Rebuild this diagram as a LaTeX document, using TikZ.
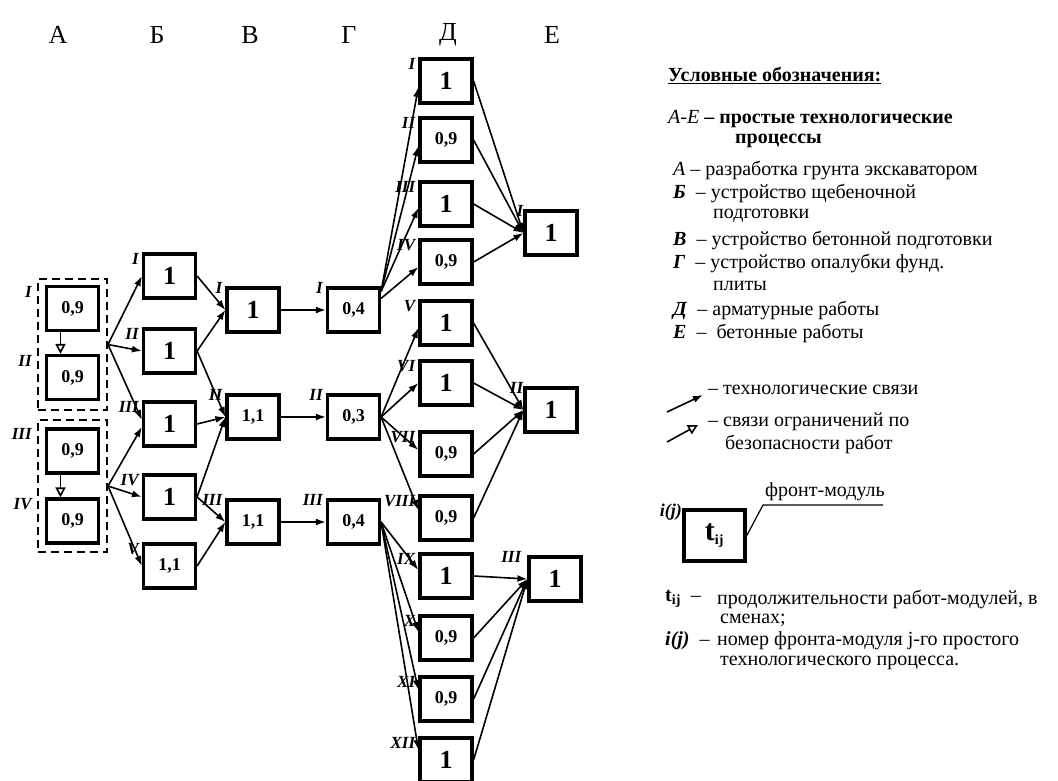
\documentclass[tikz,border=0pt]{standalone}
\usepackage{fontspec}
\setmainfont{Liberation Serif}
\usetikzlibrary{arrows.meta,positioning}
\newcommand{\fsz}[1]{\fontsize{#1}{#1}\selectfont}

\begin{document}
\begin{tikzpicture}[
    x=1pt, y=-1pt,
    mod/.style={draw, rectangle, line width=3.2pt, minimum width=52pt, minimum height=44pt, inner sep=0pt, font=\fsz{18}\bfseries},
    big/.style={font=\fsz{26}\bfseries},
    num/.style={font=\fsz{17}\bfseries\itshape, anchor=east, xshift=-3pt, yshift=-7pt, inner sep=0pt},
    grp/.style={draw, dash pattern=on 8pt off 5pt, line width=2pt, minimum width=69pt, inner sep=0pt},
    tech/.style={draw, -{Latex[length=10pt,width=7pt]}, line width=1.6pt},
    safe/.style={draw, -{Triangle[open,length=10pt,width=10pt]}, line width=1.6pt},
    head/.style={font=\fsz{26}},
    leg/.style={anchor=west, font=\fsz{20}, inner sep=0pt}
]
\useasboundingbox (0,0) rectangle (1058,780);

% column heads
\node[head] (hA) at (58,35) {А};
\node[head] (hB) at (157,35) {Б};
\node[head] (hV) at (250,35) {В};
\node[head] (hG) at (349,35) {Г};
\node[head] (hD) at (448,35) {Д};
\node[head] (hE) at (552,35) {Е};

% A
\node[grp, minimum height=131pt] (grp1) at (72.5,344.5) {};
\node[grp, minimum height=132pt] (grp2) at (72.5,486) {};
\node[mod, label={[num, xshift=-10pt]north west:I}] (a1) at (72.5,308.5) {0,9};
\node[mod, label={[num, xshift=-10pt]north west:II}] (a2) at (72.5,377.5) {0,9};
\node[mod, label={[num, xshift=-10pt]north west:III}] (a3) at (72.5,451) {0,9};
\node[mod, label={[num, xshift=-10pt]north west:IV}] (a4) at (72.5,521) {0,9};
\draw[safe] ([xshift=-12pt]a1.south) -- ([xshift=-12pt]a2.north);
\draw[safe] ([xshift=-12pt]a3.south) -- ([xshift=-12pt]a4.north);

% B
\node[mod, big, label={[num]north west:I}] (b1) at (169.5,276) {1};
\node[mod, big, label={[num]north west:II}] (b2) at (169.5,351) {1};
\node[mod, big, label={[num]north west:III}] (b3) at (169.5,424) {1};
\node[mod, big, label={[num]north west:IV}] (b4) at (169.5,497) {1};
\node[mod, label={[num]north west:V}] (b5) at (169.5,566) {1,1};
\draw[tech] (grp1.east) -- (b1.west);
\draw[tech] (grp1.east) -- (b2.west);
\draw[tech] (grp1.east) -- ([yshift=4pt]b3.west);
\draw[tech] (grp2.east) -- ([yshift=-3pt]b3.west);
\draw[tech] (grp2.east) -- (b4.west);
\draw[tech] (grp2.east) -- (b5.west);

% V
\node[mod, big, label={[num, yshift=5pt]north west:I}] (v1) at (253,310) {1};
\node[mod, label={[num, yshift=5pt]north west:II}] (v2) at (253,417) {1,1};
\node[mod, label={[num, yshift=5pt]north west:III}] (v3) at (253,522) {1,1};
\draw[tech] (b1.east) -- (v1.west);
\draw[tech] (b2.east) -- (v1.west);
\draw[tech] (b2.east) -- (v2.west);
\draw[tech] (b3.east) -- (v2.west);
\draw[tech] (b4.east) -- (v2.west);
\draw[tech] (b4.east) -- (v3.west);
\draw[tech] (b5.east) -- (v3.west);

% G
\node[mod, label={[num, yshift=5pt]north west:I}] (g1) at (353.5,310) {0,4};
\node[mod, label={[num, yshift=5pt]north west:II}] (g2) at (353.5,417) {0,3};
\node[mod, label={[num, yshift=5pt]north west:III}] (g3) at (353.5,522) {0,4};
\draw[tech] (v1.east) -- (g1.west);
\draw[tech] (v2.east) -- (g2.west);
\draw[tech] (v3.east) -- (g3.west);

% D
\node[mod, big, label={[num]north west:I}] (d1) at (446,81) {1};
\node[mod, label={[num]north west:II}] (d2) at (446,140) {0,9};
\node[mod, big, label={[num]north west:III}] (d3) at (446,204) {1};
\node[mod, label={[num]north west:IV}] (d4) at (446,262) {0,9};
\node[mod, big, label={[num]north west:V}] (d5) at (446,323) {1};
\node[mod, big, label={[num]north west:VI}] (d6) at (446,383) {1};
\node[mod, label={[num]north west:VII}] (d7) at (446,454) {0,9};
\node[mod, label={[num]north west:VIII}] (d8) at (446,518) {0,9};
\node[mod, big, label={[num]north west:IX}] (d9) at (446,576) {1};
\node[mod, label={[num]north west:X}] (d10) at (446,638) {0,9};
\node[mod, label={[num]north west:XI}] (d11) at (446,699) {0,9};
\node[mod, big, label={[num]north west:XII}] (d12) at (446,760) {1};
\draw[tech] ([yshift=-5pt]g1.north east) -- ([yshift=-6pt]d1.west);
\draw[tech] ([yshift=-5pt]g1.north east) -- ([yshift=-6pt]d2.west);
\draw[tech] ([yshift=-5pt]g1.north east) -- ([yshift=-4pt]d3.west);
\draw[tech] ([yshift=-12pt]g1.north east) -- ([yshift=-5pt]d4.west);
\draw[tech] (g2.east) -- ([yshift=-5pt]d5.west);
\draw[tech] (g2.east) -- (d6.west);
\draw[tech] (g2.east) -- ([yshift=4pt]d7.west);
\draw[tech] (g2.east) -- ([yshift=8pt]d8.west);
\draw[tech] (g3.east) -- ([yshift=6pt]d9.west);
\draw[tech] (g3.east) -- ([yshift=6pt]d10.west);
\draw[tech] (g3.east) -- ([yshift=9pt]d11.west);
\draw[tech] (g3.east) -- ([yshift=10pt]d12.west);

% E
\node[mod, big, label={[num, anchor=south east, xshift=3pt, yshift=0pt]north west:I}] (e1) at (551,233) {1};
\node[mod, big, label={[num, anchor=south east, xshift=3pt, yshift=0pt]north west:II}] (e2) at (551,410) {1};
\node[mod, big, label={[num, anchor=south east, xshift=-3pt, yshift=0pt]north west:III}] (e3) at (555,579) {1};
\draw[tech] (d1.east) -- (e1.west);
\draw[tech] (d2.east) -- (e1.west);
\draw[tech] (d3.east) -- (e1.west);
\draw[tech] (d4.east) -- (e1.west);
\draw[tech] (d5.east) -- (e2.west);
\draw[tech] (d6.east) -- (e2.west);
\draw[tech] (d7.east) -- (e2.west);
\draw[tech] (d8.east) -- (e2.west);
\draw[tech] (d9.east) -- (e3.west);
\draw[tech] (d10.east) -- (e3.west);
\draw[tech] (d11.east) -- (e3.west);
\draw[tech] (d12.east) -- (e3.west);

% legend
\node[leg] (l0) at (668,75) {\bfseries\underline{Условные обозначения:}};
\node[leg] (l1) at (668,119) {\textit{А-Е} \textbf{– простые технологические}};
\node[leg] (l2) at (735,141) {\bfseries процессы};
\node[leg] (l3) at (673,170) {\textit{А} – разработка грунта экскаватором};
\node[leg] (l4) at (673,193) {\textbf{\textit{Б}} \ – устройство щебеночной};
\node[leg] (l5) at (713,216) {подготовки};
\node[leg] (l6) at (673,240) {\textbf{\textit{В}} \ – устройство бетонной подготовки};
\node[leg] (l7) at (673,263) {\textbf{\textit{Г}} \ – устройство опалубки фунд.};
\node[leg] (l8) at (713,286) {плиты};
\node[leg] (l9) at (673,310) {\textbf{\textit{Д}} \ – арматурные работы};
\node[leg] (l10) at (673,333) {\textbf{\textit{Е}} \ – \ бетонные работы};

\coordinate (ta) at (667,412);
\coordinate (tb) at (703,395);
\draw[tech] (ta) -- (tb);
\node[leg] (l11) at (708,390) {– технологические связи};
\coordinate (sa) at (667,442);
\coordinate (sb) at (698,425);
\draw[safe] (sa) -- (sb);
\node[leg] (l12) at (708,422) {– связи ограничений по};
\node[leg] (l13) at (725,444) {безопасности работ};

\node[mod, line width=3.6pt, minimum width=61pt, minimum height=51pt] (lgbox) at (714.5,535.5) {\fsz{30}t\textsubscript{\fsz{14}ij}};
\node[font=\fsz{18}\bfseries\itshape, anchor=east, inner sep=0pt] (lgij) at (682,512) {i(j)};
\coordinate (fa) at (763,505);
\coordinate (fb) at (883,505);
\draw[line width=1.2pt] (lgbox.east) -- (fa) -- (fb);
\node[leg, anchor=south west] (l14) at (765,501) {фронт-модуль};

\node[leg] (l15) at (665,599) {\textbf{t\textsubscript{ij}} \ –};
\node[leg] (l16) at (717,599) {продолжительности работ-модулей, в};
\node[leg] (l17) at (720,620) {сменах;};
\node[leg] (l18) at (665,641) {\textbf{\textit{i(j)}} \ –};
\node[leg] (l19) at (717,641) {номер фронта-модуля j-го простого};
\node[leg] (l20) at (720,663) {технологического процесса.};

\end{tikzpicture}
\end{document}
